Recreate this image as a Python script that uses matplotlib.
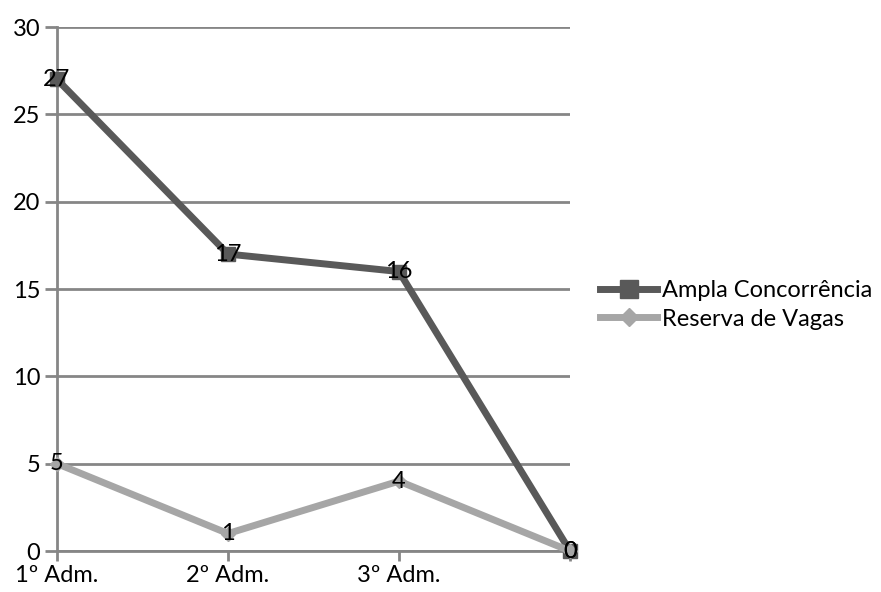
import numpy as np
import matplotlib.pyplot as plt

plt.rcParams['font.family'] = ['Lato', 'DejaVu Sans']

categorias = ['1º Adm.', '2º Adm.', '3º Adm.', '']
ampla = [27, 17, 16, 0]
reserva = [5, 1, 4, 0]

fig = plt.figure(figsize=(8.81, 5.92), dpi=100)
ax = fig.add_axes([57 / 881, 41 / 592, 513 / 881, 524 / 592])

x = np.arange(len(categorias))
grid_c = '#868686'
fs = 17

ax.plot(x, ampla, color='#595959', lw=5, marker='s', ms=10,
        label='Ampla Concorrência', zorder=3, clip_on=False)
ax.plot(x, reserva, color='#a6a6a6', lw=5, marker='D', ms=7,
        label='Reserva de Vagas', zorder=3, clip_on=False)

for xi, v in zip(x, ampla):
    ax.text(xi, v, str(v), ha='center', va='center', fontsize=fs, zorder=4)
for xi, v in zip(x, reserva):
    ax.text(xi, v, str(v), ha='center', va='center', fontsize=fs, zorder=4)

ax.set_xlim(0, 3)
ax.set_ylim(0, 30)
ax.set_yticks(range(0, 31, 5))
ax.set_xticks(x)
ax.set_xticklabels(categorias, fontsize=fs)
ax.tick_params(axis='y', labelsize=fs, length=9, width=2, color=grid_c, pad=3)
ax.tick_params(axis='x', length=7, width=2, color=grid_c, pad=3)

ax.yaxis.grid(True, color=grid_c, lw=2)
ax.set_axisbelow(True)
for s in ['top', 'right']:
    ax.spines[s].set_visible(False)
for s in ['left', 'bottom']:
    ax.spines[s].set_color(grid_c)
    ax.spines[s].set_linewidth(2)

fig.legend(loc='center left', bbox_to_anchor=(591 / 881, 1 - 305 / 592),
           frameon=False, fontsize=fs, handlelength=2.4, handletextpad=0.2,
           labelspacing=0.3, borderaxespad=0, markerscale=1.3)

fig.savefig('out.png', dpi=100)
